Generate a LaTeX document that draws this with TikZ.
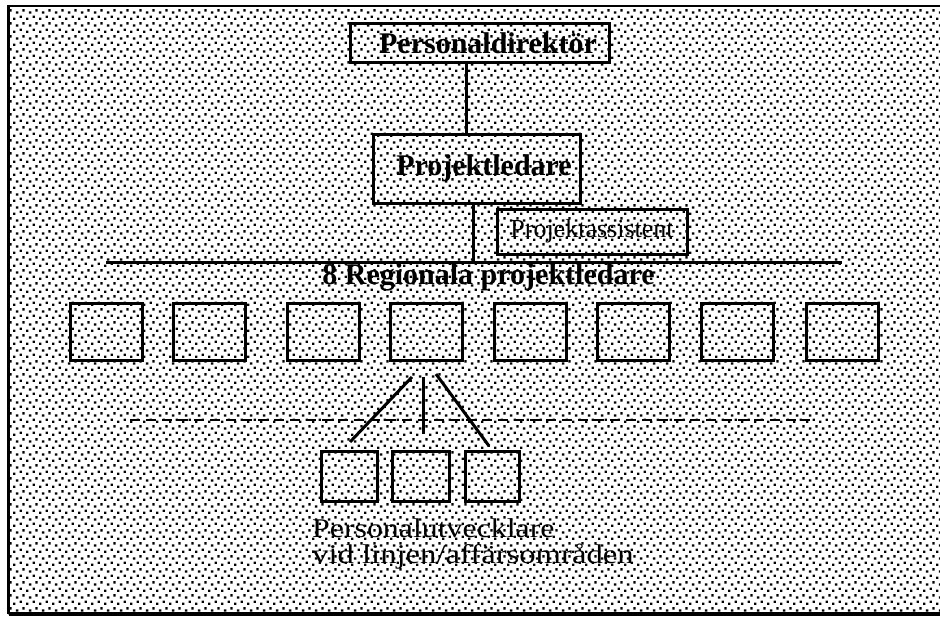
\documentclass[tikz,border=0pt]{standalone}
\usepackage{fontspec}
\usepackage{graphicx}
\setmainfont{Liberation Serif}
\usetikzlibrary{patterns}
\pgfdeclarepatternformonly{bgdots}{\pgfqpoint{0pt}{0pt}}{\pgfqpoint{13pt}{13pt}}{\pgfqpoint{13pt}{13pt}}{%
  \pgfpathrectangle{\pgfqpoint{0pt}{0pt}}{\pgfqpoint{2.6pt}{2.6pt}}%
  \pgfpathrectangle{\pgfqpoint{7pt}{2.2pt}}{\pgfqpoint{2.6pt}{2.6pt}}%
  \pgfpathrectangle{\pgfqpoint{3.2pt}{6.8pt}}{\pgfqpoint{2.6pt}{2.6pt}}%
  \pgfpathrectangle{\pgfqpoint{10pt}{9pt}}{\pgfqpoint{2.6pt}{2.6pt}}%
  \pgfusepath{fill}}
\newcommand\tfbold{\fontsize{30}{36}\selectfont\bfseries}
\begin{document}
\begin{tikzpicture}[x=1pt,y=-1pt,
  box/.style={draw,line width=3pt,inner sep=0pt},
  conn/.style={line width=3pt},
  lbl/.style={inner sep=0pt}]
\useasboundingbox (0,0) rectangle (940,618);
% background and frame
\coordinate (fTL) at (8.5,6);
\coordinate (fTR) at (940,6);
\coordinate (fBL) at (8.5,614);
\coordinate (fBR) at (940,614);
\fill[pattern=bgdots] (fTL) rectangle (fBR);
\draw[line width=2.8pt] (fTR) -- (fTL) -- (fBL);
\draw[line width=4.5pt] (fBL) -- (fBR);
% top boxes
\node[box,minimum width=259pt,minimum height=39pt,font=\tfbold] (pd) at (479.5,43.5) {\hspace*{17pt}Personaldirektör};
\node[box,minimum width=207pt,minimum height=69pt,font=\tfbold] (pl) at (476.5,168.5) {\hspace*{15pt}Projektledare};
\node[box,minimum width=190pt,minimum height=45pt,font=\fontsize{26}{30}\selectfont] (pa) at (592,231.5) {Projektassistent};
% connectors top
\coordinate (c1) at (466,0);
\draw[conn] (pd.south -| c1) -- (pl.north -| c1);
\coordinate (hl) at (106,262);
\coordinate (hr) at (842,262);
\coordinate (c2) at (473,0);
\draw[conn] (pl.south -| c2) -- (hl -| c2);
\draw[conn] (hl) -- (hr);
\node[lbl,anchor=base,font=\tfbold] (rt) at (488.5,284) {8 Regionala projektledare};
% regional boxes
\foreach \i/\x in {1/106,2/209,3/323,4/426.5,5/530,6/633,7/737.5,8/842.5}
  \node[box,minimum width=72pt,minimum height=57pt] (r\i) at (\x,331.5) {};
% dashed line
\coordinate (dl) at (130,420);
\coordinate (dr) at (810,420);
\draw[line width=1.8pt,dash pattern=on 10pt off 6pt] (dl) -- (dr);
% small boxes
\node[box,minimum width=56pt,minimum height=50pt] (s1) at (349,476) {};
\node[box,minimum width=57pt,minimum height=50pt] (s2) at (420.5,476) {};
\node[box,minimum width=54pt,minimum height=50pt] (s3) at (492,476) {};
% fan
\coordinate (fa1) at (412,377);
\coordinate (fb1) at (350,442);
\coordinate (fa2) at (423,377);
\coordinate (fb2) at (423,434);
\coordinate (fa3) at (436,374);
\coordinate (fb3) at (489,446);
\draw[conn] (fa1) -- (fb1);
\draw[conn] (fa2) -- (fb2);
\draw[conn] (fa3) -- (fb3);
% bottom text
\node[lbl,anchor=base west,font=\fontsize{27}{30}\selectfont] (t1) at (312,537) {\scalebox{1.18}[1]{Personalutvecklare}};
\node[lbl,anchor=base west,font=\fontsize{27}{30}\selectfont] (t2) at (312,563) {\scalebox{1.21}[1]{vid linjen/affärsområden}};
\end{tikzpicture}
\end{document}
